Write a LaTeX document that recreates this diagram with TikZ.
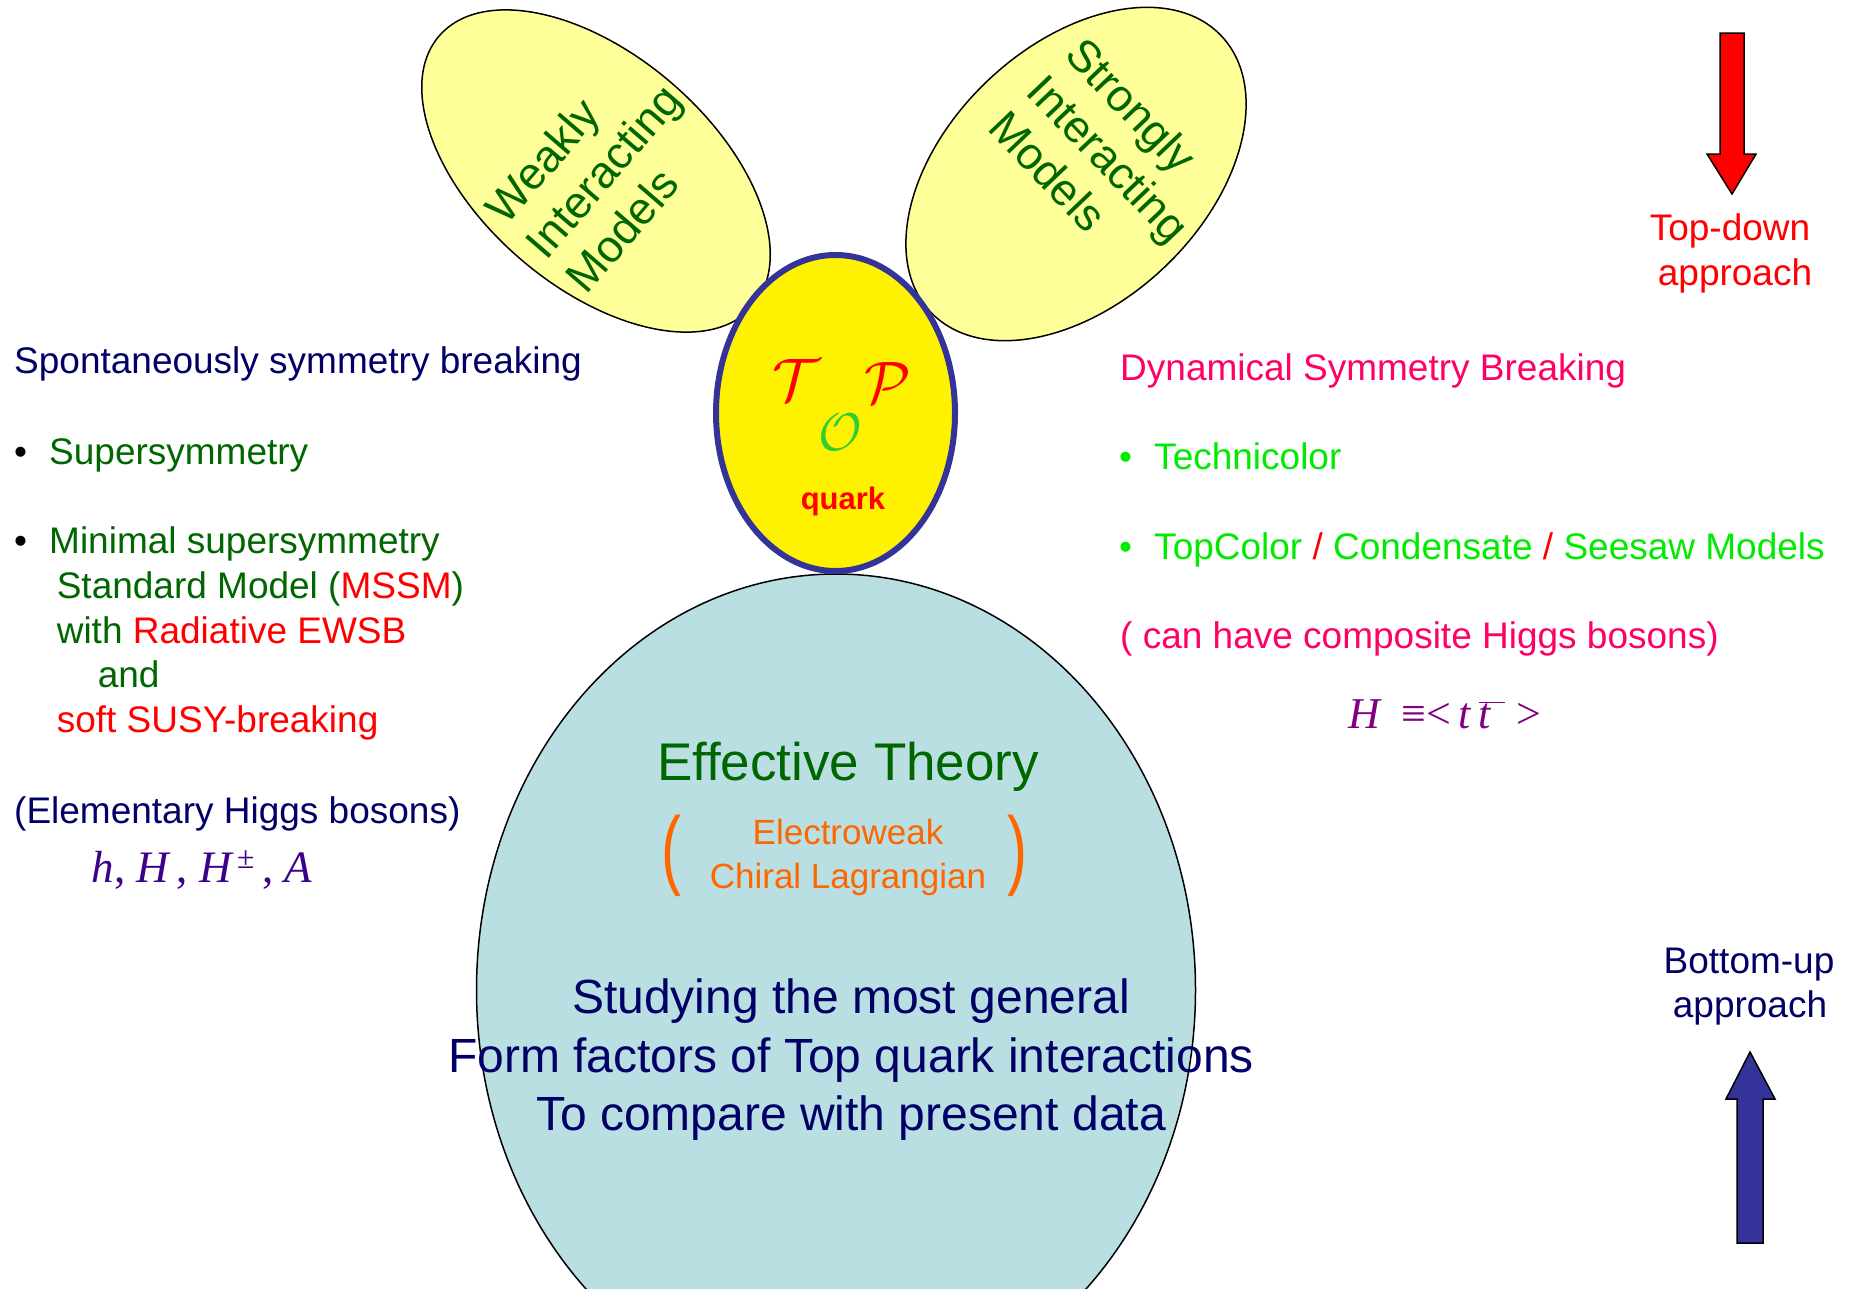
\documentclass[tikz,border=0pt]{standalone}
\usepackage{fontspec}
\setmainfont{Liberation Sans}
\newfontfamily\eqfont{Liberation Serif}
\usetikzlibrary{shapes.geometric}

\definecolor{navytext}{RGB}{0,0,102}
\definecolor{darkgreen}{RGB}{0,102,0}
\definecolor{brightgreen}{RGB}{0,235,0}
\definecolor{hotpink}{RGB}{255,0,102}
\definecolor{orangetext}{RGB}{255,102,0}
\definecolor{paleyellow}{RGB}{255,255,153}
\definecolor{topblue}{RGB}{51,51,153}
\definecolor{effblue}{RGB}{185,223,227}
\definecolor{eqpurple}{RGB}{60,0,140}
\definecolor{hpurple}{RGB}{128,0,128}
\definecolor{calgreen}{RGB}{51,204,51}

\newcommand\bul[1]{\makebox[35pt][l]{\textcolor{#1}{•}}}
\newcommand\bigcal[2]{\scalebox{#1}{$\mathcal{#2}$}}
\newcommand\tallparen[1]{\scalebox{1.2}[1.75]{\fontsize{50}{50}\selectfont#1}}

\tikzset{
  txt/.style={inner sep=0pt,anchor=base west,font=\fontsize{37}{44}\selectfont},
  ctxt/.style={inner sep=0pt,anchor=base,font=\fontsize{37}{44}\selectfont},
  bubble/.style={ellipse,draw,line width=1.5pt,fill=paleyellow,inner sep=0pt},
  bubtext/.style={inner sep=0pt,align=left,text=darkgreen,font=\fontsize{45}{53}\selectfont},
  letter/.style={inner sep=0pt},
  blockarrow/.style={draw,line width=1.5pt,line join=miter},
}

\begin{document}
\begin{tikzpicture}[x=1pt,y=-1pt]
\useasboundingbox (0,0) rectangle (1854,1288);
\clip (0,0) rectangle (1854,1288);

\node[bubble,rotate=49.3,minimum width=232pt,minimum height=414pt] (weak) at (596,171) {};
\node[bubble,rotate=-46.4,minimum width=257pt,minimum height=401pt] (strong) at (1076,174) {};
\node[bubtext,rotate=49.3] (weaklbl) at (603,171) {Weakly\\Interacting\\Models};
\node[bubtext,rotate=-46.4] (stronglbl) at (1109,158) {Strongly\\Interacting\\Models};

\node[ellipse,draw,line width=1.5pt,fill=effblue,inner sep=0pt,minimum width=719pt,minimum height=832pt] (eft) at (836,990) {};
\node[ellipse,draw=topblue,line width=6pt,fill=yellow,inner sep=0pt,minimum width=239pt,minimum height=316pt] (top) at (835.5,413) {};

\node[letter,text=red] (calT) at (796,380) {\bigcal{6}{T}};
\node[letter,text=red] (calP) at (888,383) {\bigcal{6}{P}};
\node[letter,text=calgreen] (calO) at (840,432) {\bigcal{5.3}{O}};
\node[inner sep=0pt,anchor=base,text=red,font=\fontsize{31}{37}\selectfont\bfseries] (quark) at (843,509) {quark};

\node[txt,text=navytext] (ssb) at (14,373) {Spontaneously symmetry breaking};
\node[txt,text=darkgreen] (susy) at (14,464) {\bul{black}Supersymmetry};
\node[txt,text=darkgreen] (mssm1) at (14,553) {\bul{black}Minimal supersymmetry};
\node[txt,text=darkgreen] (mssm2) at (56.6,598) {Standard Model (\textcolor{red}{MSSM})};
\node[txt,text=darkgreen] (mssm3) at (56.6,643) {with \textcolor{red}{Radiative EWSB}};
\node[txt,text=darkgreen] (mssm4) at (97.6,687) {and};
\node[txt,text=red] (mssm5) at (56.6,732) {soft SUSY-breaking};
\node[txt,text=navytext] (elem) at (14,823) {(Elementary Higgs bosons)};
\node[txt,text=eqpurple,font=\eqfont\fontsize{45}{50}\selectfont] (elemeq) at (91.7,882)
  {{\itshape h}, {\itshape H}\,, {\itshape H}\raisebox{4pt}{\textsuperscript{\,±}}\,, {\itshape A}};

\node[txt,text=hotpink] (dsb) at (1120,380) {Dynamical Symmetry Breaking};
\node[txt,text=brightgreen] (tc) at (1119,469) {\bul{brightgreen}Technicolor};
\node[txt,text=brightgreen] (topc) at (1119,559) {\bul{brightgreen}TopColor \textcolor{red}{/} Condensate \textcolor{red}{/} Seesaw Models};
\node[txt,text=hotpink] (comp) at (1120,648) {( can have composite Higgs bosons)};
\node[txt,text=hpurple,font=\eqfont\fontsize{44}{50}\selectfont] (condeq) at (1348,728)
  {{\itshape H}\enspace≡<\,{\itshape t}\,$\overline{\mbox{\itshape t\,\,}}$\ >};

\node[ctxt,text=darkgreen,font=\fontsize{53}{60}\selectfont] (eftitle) at (848,780) {Effective Theory};
\node[ctxt,text=orangetext,font=\fontsize{35}{44}\selectfont] (ew1) at (848,844) {Electroweak};
\node[ctxt,text=orangetext,font=\fontsize{35}{44}\selectfont] (ew2) at (848,888) {Chiral Lagrangian};
\node[inner sep=0pt,text=orangetext] (lpar) at (671,856) {\tallparen{(}};
\node[inner sep=0pt,text=orangetext] (rpar) at (1017,856) {\tallparen{)}};
\node[ctxt,text=navytext,font=\fontsize{48}{57}\selectfont] (form1) at (851,1013) {Studying the most general};
\node[ctxt,text=navytext,font=\fontsize{48}{57}\selectfont] (form2) at (851,1072) {Form factors of Top quark interactions};
\node[ctxt,text=navytext,font=\fontsize{48}{57}\selectfont] (form3) at (851,1130) {To compare with present data};

\draw[blockarrow,fill=red] (1720,33) -- (1744,33) -- (1744,154) -- (1756,154) -- (1732,194) -- (1707,154) -- (1720,154) -- cycle;
\node[ctxt,text=red] (td1) at (1730,240) {Top-down};
\node[ctxt,text=red] (td2) at (1735,285) {approach};

\draw[blockarrow,fill=topblue] (1737,1243) -- (1763,1243) -- (1763,1099) -- (1775,1099) -- (1750,1052) -- (1726,1099) -- (1737,1099) -- cycle;
\node[ctxt,text=navytext] (bu1) at (1749,973) {Bottom-up};
\node[ctxt,text=navytext] (bu2) at (1750,1017) {approach};

\end{tikzpicture}
\end{document}
